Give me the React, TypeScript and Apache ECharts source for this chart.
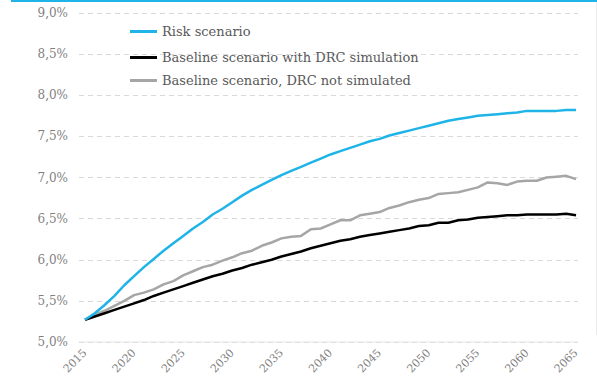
import React, { useEffect, useRef } from "react";
import * as echarts from "echarts";

const years: number[] = [];
for (let y = 2015; y <= 2065; y++) years.push(y);
const yearLabels = years.map((y) => String(y));

const riskScenario = [
  5.27, 5.35, 5.45, 5.56, 5.69, 5.8, 5.91, 6.01, 6.11, 6.2,
  6.29, 6.38, 6.46, 6.55, 6.62, 6.7, 6.78, 6.85, 6.91, 6.97,
  7.03, 7.08, 7.13, 7.18, 7.23, 7.28, 7.32, 7.36, 7.4, 7.44,
  7.47, 7.51, 7.54, 7.57, 7.6, 7.63, 7.66, 7.69, 7.71, 7.73,
  7.75, 7.76, 7.77, 7.78, 7.79, 7.81, 7.81, 7.81, 7.81, 7.82, 7.82,
];

const baselineDrc = [
  5.27, 5.31, 5.35, 5.39, 5.43, 5.47, 5.51, 5.56, 5.6, 5.64,
  5.68, 5.72, 5.76, 5.8, 5.83, 5.87, 5.9, 5.94, 5.97, 6.0,
  6.04, 6.07, 6.1, 6.14, 6.17, 6.2, 6.23, 6.25, 6.28, 6.3,
  6.32, 6.34, 6.36, 6.38, 6.41, 6.42, 6.45, 6.45, 6.48, 6.49,
  6.51, 6.52, 6.53, 6.54, 6.54, 6.55, 6.55, 6.55, 6.55, 6.56, 6.54,
];

const baselineNoDrc = [
  5.27, 5.33, 5.38, 5.44, 5.5, 5.57, 5.6, 5.64, 5.7, 5.74,
  5.81, 5.86, 5.91, 5.94, 5.99, 6.03, 6.08, 6.11, 6.17, 6.21,
  6.26, 6.28, 6.29, 6.37, 6.38, 6.43, 6.48, 6.48, 6.54, 6.56,
  6.58, 6.63, 6.66, 6.7, 6.73, 6.75, 6.8, 6.81, 6.82, 6.85,
  6.88, 6.94, 6.93, 6.91, 6.95, 6.96, 6.96, 7.0, 7.01, 7.02, 6.98,
];

const seriesNames = [
  "Risk scenario",
  "Baseline scenario with DRC simulation",
  "Baseline scenario, DRC not simulated",
];
const seriesColors = ["#1fb4e8", "#000000", "#a6a6a6"];
const legendRowTops = [25, 51, 74];

const FONT = "DejaVu Serif";

export default function App() {
  const ref = useRef<HTMLDivElement>(null);

  useEffect(() => {
    document.body.style.margin = "0";
    if (!ref.current) return;
    const chart = echarts.init(ref.current, undefined, { renderer: "svg" });
    const allSeries = [riskScenario, baselineDrc, baselineNoDrc];
    chart.setOption({
      animation: false,
      backgroundColor: "#ffffff",
      grid: [
        { left: 79, right: 19, top: 13, bottom: 46, containLabel: false },
        { left: 85, right: 21, top: 13, bottom: 46, containLabel: false },
      ],
      legend: seriesNames.map((name, i) => ({
        orient: "horizontal",
        left: 130,
        top: legendRowTops[i],
        padding: 0,
        itemWidth: 27,
        itemHeight: 3,
        icon: "rect",
        data: [name],
        textStyle: { fontFamily: FONT, fontSize: 13, color: "#595959" },
      })),
      xAxis: [
        {
          type: "value",
          gridIndex: 0,
          min: 2014.39,
          max: 2065.2,
          axisLine: { show: false },
          axisTick: { show: false },
          splitLine: { show: false },
          axisLabel: { show: false },
        },
        {
          type: "category",
          gridIndex: 1,
          data: yearLabels,
          boundaryGap: false,
          axisLine: { show: false },
          axisTick: { show: false },
          splitLine: { show: false },
          axisLabel: {
            interval: 4,
            rotate: 45,
            margin: 9,
            fontFamily: FONT,
            fontSize: 11,
            color: "#7f7f7f",
          },
        },
      ],
      yAxis: [
        {
          type: "value",
          gridIndex: 0,
          min: 5,
          max: 9,
          interval: 0.5,
          axisLine: { show: false },
          axisTick: { show: false },
          splitLine: {
            show: true,
            lineStyle: { color: "#d9d9d9", type: [5, 4], width: 1 },
          },
          axisLabel: {
            margin: 11,
            fontFamily: FONT,
            fontSize: 12,
            color: "#7f7f7f",
            formatter: (v: number) => v.toFixed(1).replace(".", ",") + "%",
          },
        },
        {
          type: "value",
          gridIndex: 1,
          min: 5,
          max: 9,
          show: false,
        },
      ],
      graphic: [
        {
          type: "line",
          shape: { x1: 79, y1: 342, x2: 578, y2: 342 },
          style: { stroke: "#e6e6e6", lineWidth: 1 },
          z: 1,
        },
        {
          type: "rect",
          shape: { x: 11, y: 0, width: 586, height: 2 },
          style: { fill: "#1fb4e8" },
        },
        {
          type: "line",
          shape: { x1: 596.5, y1: 2, x2: 596.5, y2: 335 },
          style: { stroke: "#ececec", lineWidth: 1 },
        },
      ],
      series: allSeries.map((vals, i) => ({
        name: seriesNames[i],
        type: "line",
        xAxisIndex: 0,
        yAxisIndex: 0,
        data: years.map((y, j) => [y, vals[j]]),
        showSymbol: false,
        symbol: "none",
        lineStyle: { color: seriesColors[i], width: 2.5 },
        itemStyle: { color: seriesColors[i] },
        z: 10 - i,
      })),
    });
    return () => chart.dispose();
  }, []);

  return <div ref={ref} style={{ width: 597, height: 388 }} />;
}
